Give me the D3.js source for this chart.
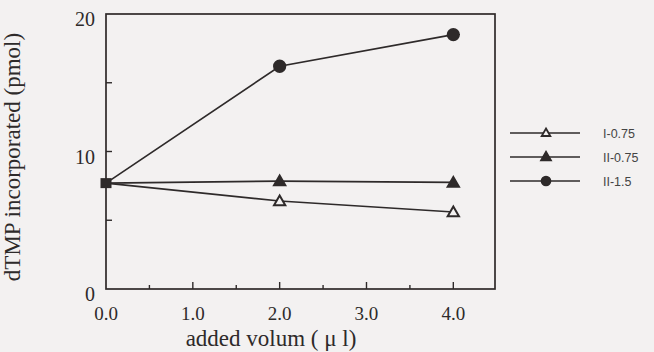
<!DOCTYPE html>
<html>
<head>
<meta charset="utf-8">
<script src="https://cdn.jsdelivr.net/npm/d3@7"></script>
<style>
  body { margin: 0; background: #f3f1f1; }
  svg { display: block; }
</style>
</head>
<body>
<div id="chart"></div>
<script>
// values
const volumes = [0.0, 2.0, 4.0];
const seriesNames = ['I-0.75', 'II-0.75', 'II-1.5'];
const valsI075 = [7.7, 6.4, 5.6];
const valsII075 = [7.7, 7.85, 7.75];
const valsII15 = [7.7, 16.2, 18.5];
const xTickLabels = ['0.0', '1.0', '2.0', '3.0', '4.0'];
const yTickLabels = ['0', '10', '20'];

const width = 654, height = 352;
const margin = { top: 14, right: 159, bottom: 63, left: 106 };
const ink = '#2e2a2a';

const svg = d3.select('#chart')
  .append('svg')
  .attr('width', width)
  .attr('height', height);

const x = d3.scaleLinear().domain([0, 4.48]).range([margin.left, width - margin.right]);
const y = d3.scaleLinear().domain([0, 20]).range([height - margin.bottom, margin.top]);

const series = [
  { name: seriesNames[0], values: valsI075, shape: d3.symbolTriangle, fill: '#f3f1f1', size: 55, legSize: 32 },
  { name: seriesNames[1], values: valsII075, shape: d3.symbolTriangle, fill: ink, size: 55, legSize: 42 },
  { name: seriesNames[2], values: valsII15, shape: d3.symbolCircle, fill: ink, size: 100, legSize: 62 }
];

// frame
svg.append('rect')
  .attr('x', x.range()[0])
  .attr('y', y.range()[1])
  .attr('width', x.range()[1] - x.range()[0])
  .attr('height', y.range()[0] - y.range()[1])
  .attr('fill', 'none')
  .attr('stroke', ink)
  .attr('stroke-width', 1.7);

// x ticks (inward), minor every 0.5
const xTicks = d3.range(0.5, 4.01, 0.5);
svg.selectAll('line.xtick')
  .data(xTicks)
  .join('line')
  .attr('x1', d => x(d)).attr('x2', d => x(d))
  .attr('y1', y(0))
  .attr('y2', d => y(0) - (d % 1 === 0 ? 7 : 4))
  .attr('stroke', ink)
  .attr('stroke-width', 1.4);

// y ticks
svg.selectAll('line.ytick')
  .data([5, 10, 15])
  .join('line')
  .attr('x1', x(0)).attr('x2', x(0) + 6)
  .attr('y1', d => y(d)).attr('y2', d => y(d))
  .attr('stroke', ink)
  .attr('stroke-width', 1.4);

const serif = 'Liberation Serif, Times New Roman, serif';

svg.selectAll('text.xlab')
  .data(xTickLabels)
  .join('text')
  .attr('x', d => x(+d))
  .attr('y', 320)
  .attr('text-anchor', 'middle')
  .attr('font-family', serif)
  .attr('font-size', 19)
  .attr('fill', ink)
  .text(d => d);

svg.selectAll('text.ylab')
  .data(yTickLabels)
  .join('text')
  .attr('x', x(0) - 11)
  .attr('y', d => y(+d) + 12)
  .attr('text-anchor', 'end')
  .attr('font-family', serif)
  .attr('font-size', 20)
  .attr('fill', ink)
  .text(d => d);

svg.append('text')
  .attr('x', 271)
  .attr('y', 346)
  .attr('text-anchor', 'middle')
  .attr('font-family', serif)
  .attr('font-size', 23)
  .attr('fill', ink)
  .text('added volum ( μ l)');

svg.append('text')
  .attr('transform', 'rotate(-90)')
  .attr('x', -157)
  .attr('y', 20)
  .attr('text-anchor', 'middle')
  .attr('font-family', serif)
  .attr('font-size', 23)
  .attr('fill', ink)
  .text('dTMP incorporated (pmol)');

// lines
const line = d3.line().x((d, i) => x(volumes[i])).y(d => y(d));
svg.selectAll('path.series')
  .data(series)
  .join('path')
  .attr('d', d => line(d.values))
  .attr('fill', 'none')
  .attr('stroke', ink)
  .attr('stroke-width', 1.7);

// markers (skip the shared start point)
series.forEach(s => {
  svg.selectAll(null)
    .data(s.values.slice(1))
    .join('path')
    .attr('transform', (d, i) => `translate(${x(volumes[i + 1])},${y(d) + (s.shape === d3.symbolTriangle ? 1 : 0)})`)
    .attr('d', d3.symbol(s.shape, s.size))
    .attr('fill', s.fill)
    .attr('stroke', ink)
    .attr('stroke-width', 2);
});

// shared starting point
svg.append('rect')
  .attr('x', x(volumes[0]) - 5.5)
  .attr('y', y(valsI075[0]) - 5)
  .attr('width', 11)
  .attr('height', 10)
  .attr('fill', ink);

// legend
const legend = svg.append('g').attr('transform', 'translate(510,133)');
const item = legend.selectAll('g')
  .data(series)
  .join('g')
  .attr('transform', (d, i) => `translate(0,${i * 24})`);
item.append('line')
  .attr('x1', 0).attr('x2', 70)
  .attr('stroke', ink)
  .attr('stroke-width', 1.6);
item.append('path')
  .attr('transform', d => `translate(36,${d.shape === d3.symbolTriangle ? 0.5 : 0})`)
  .attr('d', d => d3.symbol(d.shape, d.legSize)())
  .attr('fill', d => d.fill)
  .attr('stroke', ink)
  .attr('stroke-width', 1.8);
item.append('text')
  .attr('x', 93)
  .attr('y', 5)
  .attr('font-family', 'Liberation Sans, Arial, sans-serif')
  .attr('font-size', 12.5)
  .attr('fill', '#444')
  .text(d => d.name);
</script>
</body>
</html>
